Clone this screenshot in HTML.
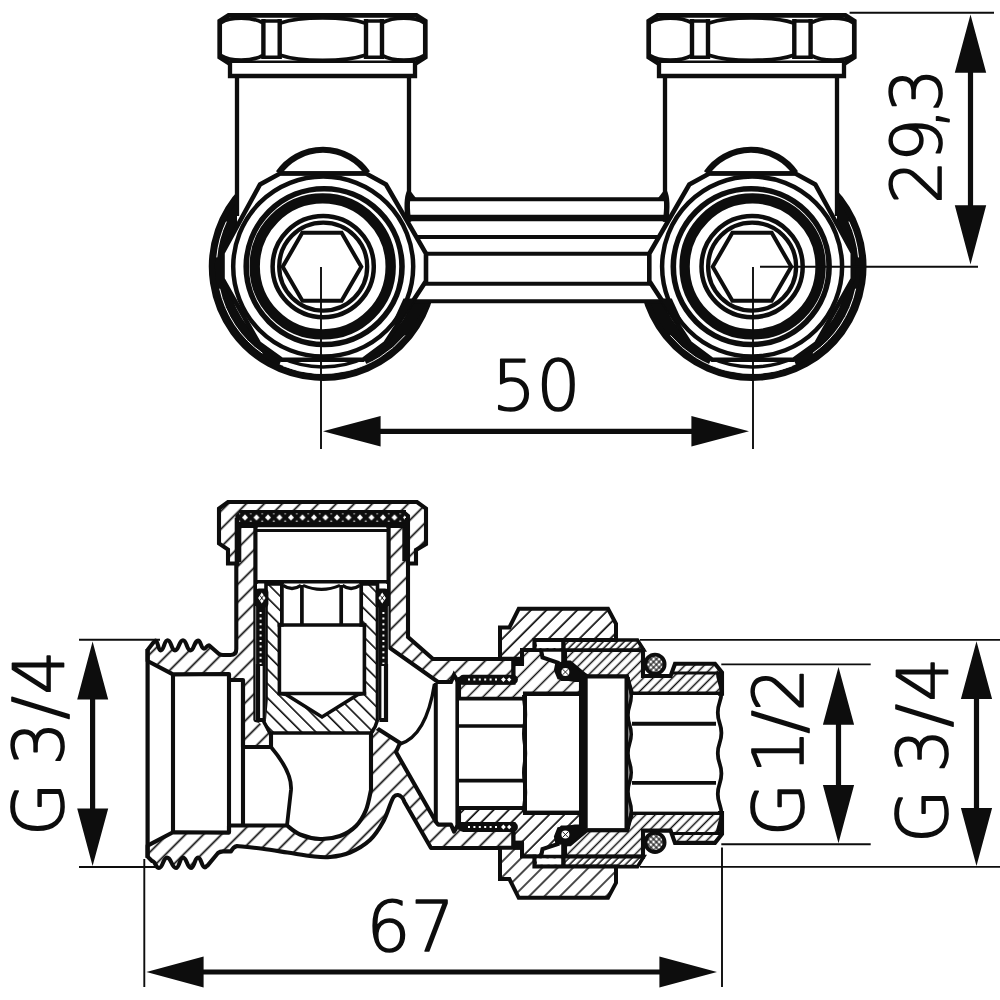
<!DOCTYPE html>
<html lang="en">
<head>
<meta charset="utf-8">
<title>Technical drawing – H-block valve, dimensions</title>
<style>
  html, body { margin: 0; padding: 0; background: #fff; }
  body { width: 1000px; height: 1000px; overflow: hidden; }
  svg { display: block; }
  .k  { fill: none; stroke: #0d0d0d; stroke-linejoin: miter; stroke-linecap: butt; }
  .n  { stroke-width: 1.9; }
  .d  { stroke-width: 5.2; }
  .f  { fill: #0d0d0d; stroke: none; }
  .w  { fill: #fff; }
  text { font-family: "DejaVu Sans Light", "DejaVu Sans", "Liberation Sans", sans-serif; font-weight: 200;
         font-size: 69px; fill: #0d0d0d; stroke: #0d0d0d; stroke-width: 1.7; stroke-linejoin: round; }
</style>
</head>
<body>
<svg width="1000" height="1000" viewBox="0 0 1000 1000">
<rect width="1000" height="1000" fill="#fff"/>

<!-- ============ TOP VIEW ============ -->
<g id="topview">
<defs>
<g id="uBack"><path class="k" stroke-width="7.2" d="M430.3 293.5A110.6 110.6 0 1 1 243.4 189.9"/>
<path class="k" stroke-width="12" d="M422.0 291.4A102 102 0 0 1 364.5 359.9"/>
<path class="k" stroke-width="12" d="M281.5 359.9A102 102 0 0 1 249.6 195.8"/>
<path class="k" stroke-width="3.4" d="M367.0 356.8A100.3 100.3 0 0 1 279.0 356.8"/>
<path fill="none" stroke="#fff" stroke-width="1" d="M262.4 353.2A105.6 105.6 0 0 1 219.7 288.7"/>
<path fill="none" stroke="#fff" stroke-width="1" d="M216.8 257.4A106.6 106.6 0 0 1 226.4 221.6"/>
<path fill="none" stroke="#fff" stroke-width="0.9" d="M404.9 335.4A106.9 106.9 0 0 1 283.0 365.8"/></g>
<g id="uFront"><path class="w" d="M237 76H409V199H405V230H237Z"/>
<path class="k" stroke-width="4.3" d="M237 76V216 M409 76V196"/>
<path class="k" stroke-width="5.5" d="M409.5 192Q405.5 200 408.5 222"/>
<path class="f" d="M407 194.5L410.5 191L415.5 197.5V201H407Z"/>
<path class="k" stroke-width="6.2" style="fill:#fff" d="M278.5 173A54.2 54.2 0 0 1 367.5 173"/>
<path class="k" stroke-width="4.7" style="fill:#fff" d="M228.6 15.3H416.4L425.3 21V57.3L416.4 62.8H228.6L219.7 57.3V21Z"/>
<path class="k" stroke-width="4.3" style="fill:#fff" d="M230 63V76H415V63"/>
<path class="k" stroke-width="4.4" d="M263.4 19V59 M279.7 19V59 M366 19V59 M382 19V59"/>
<path class="k" stroke-width="3.4" d="M263 21H280 M263 57.2H280 M366 21H382 M366 57.2H382"/>
<path class="k" stroke-width="3.8" d="M221 22.6C230 16.6 252 16.6 262.5 22.6 M221 55.6C230 61.6 252 61.6 262.5 55.6 M382.5 22.6C393 16.6 415 16.6 424 22.6 M382.5 55.6C393 61.6 415 61.6 424 55.6"/>
<path class="k" stroke-width="3.8" d="M280.5 23C300 16.2 345 16.2 365 23 M280.5 55.2C300 62 345 62 365 55.2"/></g>
<g id="uRing"><path class="k" stroke-width="4.6" style="fill:#fff" d="M280 173.5H366L386 184.5L426 253.5V281L385.5 343L363 359.8H282L259 343.5L222.5 279V253L260 184.5Z"/>
<path class="k" stroke-width="4.2" d="M280 173.4H366"/>
<circle class="k" stroke-width="4.5" cx="323.2" cy="266.6" r="90"/>
<path class="f" d="M403.5 298.5H415.5L399 323L391 326Z"/>
<circle class="k" stroke-width="5.6" cx="324.09999999999997" cy="266.6" r="77.9"/>
<circle class="k" stroke-width="10.4" cx="322.7" cy="266.40000000000003" r="68"/>
<circle class="k" stroke-width="4.5" cx="323.2" cy="266.6" r="50.6"/>
<circle class="k" stroke-width="4.3" cx="323.2" cy="266.6" r="44"/></g>
</defs>
<use href="#uBack"/>
<use href="#uBack" transform="translate(1075.3 0) scale(-1 1)"/>
<rect class="w" x="405" y="199.25" width="264" height="102"/>
<path class="k" stroke-width="4" d="M409 199.25H665 M405 237H669 M405 253.75H669 M405 283.75H669 M405 301.25H669"/>
<path class="k" stroke-width="6.6" d="M405 218H669"/>
<use href="#uFront"/>
<use href="#uRing"/>
<polygon class="k" stroke-width="4" points="361.3,266.8 341.6,300.8 302.4,300.8 282.7,266.8 302.3,232.8 341.6,232.8"/>
<use href="#uFront" transform="translate(1074 0) scale(-1 1)"/>
<use href="#uRing" transform="translate(1075.3 0) scale(-1 1)"/>
<g transform="translate(1074 0) scale(-1 1)"><polygon class="k" stroke-width="4" points="361.3,266.8 341.6,300.8 302.4,300.8 282.7,266.8 302.3,232.8 341.6,232.8"/></g>

</g>

<!-- ============ SECTION VIEW ============ -->
<g id="section">
<defs>
<pattern id="hB" patternUnits="userSpaceOnUse" width="12.7279" height="12.7279" patternTransform="rotate(-45)"><rect width="12.7279" height="12.7279" fill="#fff"/><path d="M-1 8.485H13.728 M-1 -4.243H13.728 M-1 21.213H13.728" stroke="#0d0d0d" stroke-width="1.6" fill="none"/></pattern>
<pattern id="hN" patternUnits="userSpaceOnUse" width="10.8894" height="10.8894" patternTransform="rotate(-45)"><rect width="10.8894" height="10.8894" fill="#fff"/><path d="M-1 1.167H11.889 M-1 -9.723H11.889 M-1 12.056H11.889" stroke="#0d0d0d" stroke-width="1.6" fill="none"/></pattern>
<pattern id="hT" patternUnits="userSpaceOnUse" width="10.6773" height="10.6773" patternTransform="rotate(-45)"><rect width="10.6773" height="10.6773" fill="#fff"/><path d="M-1 1.414H11.677 M-1 -9.263H11.677 M-1 12.092H11.677" stroke="#0d0d0d" stroke-width="1.6" fill="none"/></pattern>
<pattern id="hD" patternUnits="userSpaceOnUse" width="6.8236" height="6.8236" patternTransform="rotate(-45)"><rect width="6.8236" height="6.8236" fill="#fff"/><path d="M-1 6.258H7.824 M-1 -0.566H7.824 M-1 13.081H7.824" stroke="#0d0d0d" stroke-width="1.5" fill="none"/></pattern>
<pattern id="hS" patternUnits="userSpaceOnUse" width="4.9497" height="4.9497" patternTransform="rotate(-45)"><rect width="4.9497" height="4.9497" fill="#fff"/><path d="M-1 4.243H5.950 M-1 -0.707H5.950 M-1 9.192H5.950" stroke="#0d0d0d" stroke-width="1.5" fill="none"/></pattern>
<pattern id="hI" patternUnits="userSpaceOnUse" width="10.1116" height="10.1116" patternTransform="rotate(45)"><rect width="10.1116" height="10.1116" fill="#fff"/><path d="M-1 1.061H11.112 M-1 -9.051H11.112 M-1 11.172H11.112" stroke="#0d0d0d" stroke-width="1.6" fill="none"/></pattern>
<pattern id="hNm" patternUnits="userSpaceOnUse" width="10.8894" height="10.8894" patternTransform="rotate(45)"><rect width="10.8894" height="10.8894" fill="#fff"/><path d="M-1 2.934H11.889 M-1 -7.955H11.889 M-1 13.824H11.889" stroke="#0d0d0d" stroke-width="1.6" fill="none"/></pattern>
<pattern id="hTm" patternUnits="userSpaceOnUse" width="10.6773" height="10.6773" patternTransform="rotate(45)"><rect width="10.6773" height="10.6773" fill="#fff"/><path d="M-1 4.738H11.677 M-1 -5.940H11.677 M-1 15.415H11.677" stroke="#0d0d0d" stroke-width="1.6" fill="none"/></pattern>
<pattern id="hDm" patternUnits="userSpaceOnUse" width="6.8236" height="6.8236" patternTransform="rotate(45)"><rect width="6.8236" height="6.8236" fill="#fff"/><path d="M-1 5.409H7.824 M-1 -1.414H7.824 M-1 12.233H7.824" stroke="#0d0d0d" stroke-width="1.5" fill="none"/></pattern>
<pattern id="hSm" patternUnits="userSpaceOnUse" width="4.9497" height="4.9497" patternTransform="rotate(45)"><rect width="4.9497" height="4.9497" fill="#fff"/><path d="M-1 1.838H5.950 M-1 -3.111H5.950 M-1 6.788H5.950" stroke="#0d0d0d" stroke-width="1.5" fill="none"/></pattern>
<pattern id="xh" patternUnits="userSpaceOnUse" width="3.9" height="3.9" patternTransform="rotate(45)"><rect width="3.9" height="3.9" fill="#fff"/><path d="M0 1.95H3.9M1.95 0V3.9" stroke="#0d0d0d" stroke-width="1.15"/></pattern>
<pattern id="gk" patternUnits="userSpaceOnUse" x="250.75" y="510" width="11.5" height="15.6"><rect width="11.5" height="15.6" fill="#0d0d0d"/><path d="M5.75 4.5L8.75 7.5L5.75 10.5L2.75 7.5Z" fill="#fff"/><path d="M0 10.2l1.3 1.5h-2.6Z M11.5 10.2l1.3 1.5h-2.6Z M0 4.6l1.1 -1.3h-2.2Z M11.5 4.6l1.1 -1.3h-2.2Z" fill="#fff"/></pattern>
</defs>
<path d="M147.6 650L153.6 642.2L155.5 640.6C158.05 640.6 158.05 650.4 160.6 650.4C164.1 650.4 164.1 640.2 167.6 640.2C171.3 640.2 171.3 650.4 175 650.4C179 650.4 179 640.2 183 640.2C186.7 640.2 186.7 650.4 190.4 650.4C194.2 650.4 194.2 640.6 198 640.6C201 640.6 201 648.6 204 648.6C206.5 648.6 206.5 645.2 209 645.2L219 654Q220.5 655 223 655H230.4Q236.3 655 236.3 649L236.3 526 L255.5 526 L255.5 720 L264 722 L271 734 L271 747 L243 747 L243 680 L229 680 L229 674 L173 674.4 L147.6 661Z" fill="url(#hB)" stroke="#0d0d0d" stroke-width="4.1" stroke-linejoin="round"/>
<path d="M388.5 526 L408 526 L408 637 L433 659 L513.5 659 L513.5 679 L459 679 L457 680 L454 675 L451 682 L438 682 L388.5 647Z" fill="url(#hB)" stroke="#0d0d0d" stroke-width="4.1" stroke-linejoin="miter"/>
<path d="M513.5 848L431 848 L404.5 802C404.08 800.82 403.08 798.48 402 797.4C400.92 796.32 399.33 795.13 398 795C396.67 794.87 395.17 795.35 394 796.6C392.83 797.85 392.83 798.27 391 802.5C389.17 806.73 386.5 815.75 383 822C379.5 828.25 375.5 834.92 370 840C364.5 845.08 356.67 849.67 350 852.5C343.33 855.33 336.25 856.37 330 857C323.75 857.63 319.58 857.05 312.5 856.3C305.42 855.55 295.83 853.75 287.5 852.5C279.17 851.25 270.92 849.88 262.5 848.8C254.08 847.72 241.25 846.47 237 846Q233 847 231 851.4H223Q220 851.6 218 853L207.5 865.6C206.25 865.6 206.25 867.4 205 867.4C201.5 867.4 201.5 857.6 198 857.6C194.5 857.6 194.5 868 191 868C187 868 187 857.6 183 857.6C179.5 857.6 179.5 868 176 868C171.5 868 171.5 857.6 167 857.6C163 857.6 163 868 159 868C155.5 868 155.5 861 152 861L147.6 856.6L147.6 845.6 L173 832.2 L229 832.6 L229 825.5 L287 825.5C289.17 827 294.5 832.25 300 834.5C305.5 836.75 313.33 838.75 320 839C326.67 839.25 334 838.17 340 836C346 833.83 351.67 830.33 356 826C360.33 821.67 363.5 816 366 810C368.5 804 370.17 793.33 371 790L371 733 L375 727 L400 743 L396 752 L436 822 L438 824.6 L451 824.6 L454 831.6 L457 826.6 L459 827.6 L513.5 827.6Z" fill="url(#hB)" stroke="#0d0d0d" stroke-width="4.1" stroke-linejoin="round"/>
<path d="M228 502 L417 502 L426 508.5 L426 544 L416 550 L416 563.5 L408 563.5 L408 516 L404 512.5 L241 512.5 L237.4 516 L237.4 563.5 L228 563.5 L228 549.5 L219 543.5 L219 508.5Z" fill="url(#hB)" stroke="#0d0d0d" stroke-width="4.1" stroke-linejoin="miter"/>
<path class="k" stroke-width="6.6" d="M238 518V562 M405.6 518V561" />
<rect x="239" y="510" width="166" height="15.6" fill="url(#gk)"/>
<path class="k" stroke-width="3.6" d="M240 525.4H406" />
<path class="k" stroke-width="2.8" d="M240 511.4H406" />
<rect x="256" y="528" width="132" height="54" fill="#fff"/>
<path class="k" stroke-width="3" d="M256 530.6H388" />
<path class="k" stroke-width="3.8" d="M255.6 527V720 M388.4 527V647" />
<path class="k" stroke-width="3.6" d="M254 581.8H390" />
<path d="M257 584H387V720L371 734H270L257 720Z" fill="#fff"/>
<path d="M266 584 L281.9 584 L281.9 625 L279.4 625 L279.4 693.5 L286 694.5 L322 717 L358 694.5 L364.4 693.5 L364.4 625 L361.2 625 L361.2 584 L377.5 584 L377.5 720 L375 727 L371 733 L270 733 L264 722 L266 700Z" fill="url(#hI)" stroke="#0d0d0d" stroke-width="3.6" stroke-linejoin="miter"/>
<rect x="282" y="584" width="79" height="41" fill="#fff"/>
<path class="k" stroke-width="3.7" d="M281.9 583V625 M361.2 583V625 M301.9 585V625 M341.2 585V625 M277.6 625H366.2" />
<path class="k" stroke-width="3.2" d="M283 585.4Q292 591.6 301 585.4 M303 585.4Q321.5 593.4 340 585.4 M342.4 585.4Q351 591.6 360 585.4" />
<path class="k" stroke-width="3.6" d="M277.6 693.5H366.2" />
<rect x="255.60000000000002" y="606" width="10" height="114" fill="#fff"/>
<path class="k" stroke-width="9" d="M260.6 606V666" />
<path d="M260.6 612V664" fill="none" stroke="#fff" stroke-width="2" stroke-dasharray="2 3.6"/>
<path class="k" stroke-width="3.2" d="M264.20000000000005 606V720" />
<path class="k" stroke-width="4.2" d="M258.0 664V720H264.6" />
<rect x="378.4" y="606" width="10" height="114" fill="#fff"/>
<path class="k" stroke-width="9" d="M383.4 606V666" />
<path d="M383.4 612V664" fill="none" stroke="#fff" stroke-width="2" stroke-dasharray="2 3.6"/>
<path class="k" stroke-width="3.2" d="M379.79999999999995 606V720" />
<path class="k" stroke-width="4.2" d="M386.0 664V720H379.4" />
<rect x="255.20000000000002" y="588.6" width="13.2" height="19" rx="4" fill="#0d0d0d"/>
<path d="M261.8 592.6l3.7 5.4l-3.7 5.4l-3.7 -5.4Z" fill="#fff"/>
<path class="k" stroke-width="0.9" d="M259.90000000000003 595.4L263.7 600.6 M263.7 595.4L259.90000000000003 600.6"/>
<rect x="375.59999999999997" y="588.6" width="13.2" height="19" rx="4" fill="#0d0d0d"/>
<path d="M382.2 592.6l3.7 5.4l-3.7 5.4l-3.7 -5.4Z" fill="#fff"/>
<path class="k" stroke-width="0.9" d="M380.3 595.4L384.09999999999997 600.6 M384.09999999999997 595.4L380.3 600.6"/>
<path class="k" stroke-width="4.2" d="M147.6 649V858" />
<path class="k" stroke-width="4.1" d="M173 674V832.6 M229 674V832.6 M243 680V825.5" />
<path class="k" stroke-width="3.8" d="M271 747C282 760 292 776 291 790L287 825.5" />
<path class="k" stroke-width="4" d="M435.8 683V823 M457.4 681V826" />
<path class="k" stroke-width="3.4" d="M434.5 684C430 712 420 738 400 744" />
<g><path d="M459 682.6 L513.5 682.6 L513.5 662 L522 662 L522 650 L541 650 L542.5 657.5 L557.5 662.5 L556 670 L559 677.5 L575 680 L581 680 L581 693.6 L525 693.6 L525 698.75 L459 698.75Z" fill="url(#hT)" stroke="#0d0d0d" stroke-width="4.1" stroke-linejoin="miter"/>
<path d="M565 650 L643 650 L643 676 L670.6 676 L675 663.75 L715 663.75 L722 672.5 L722 693.6 L632 693.6 L627 676.5 L587.5 676.5 L585 675 L570 662.5 L565 662.5Z" fill="url(#hD)" stroke="#0d0d0d" stroke-width="4.1" stroke-linejoin="miter"/>
<path class="k" stroke-width="3" d="M673 673H722" />
<path d="M534.4 640 L637.5 640 L643.75 650 L534.4 650Z" fill="url(#hS)" stroke="#0d0d0d" stroke-width="3.6" stroke-linejoin="miter"/>
<rect x="537" y="642" width="26" height="6" fill="#fff"/>
<path class="k" stroke-width="4.4" d="M563.4 641V662" />
<path d="M500 627.5 L509.4 627.5 L518.75 608.75 L608 608.75 L616 623.75 L616 640 L534.4 640 L534.4 650 L522 650 L522 658.75 L500 658.75Z" fill="url(#hN)" stroke="#0d0d0d" stroke-width="4" stroke-linejoin="miter"/>
<path class="f" d="M513 657H524V666H513Z"/>
<path class="f" d="M556 663.5Q562 660 570 662.5L586 676.5L582 681H561Q555 676 556 663.5Z"/>
<circle cx="565.4" cy="672" r="4" fill="#fff"/>
<path class="k" stroke-width="0.9" d="M562.6 669.2L568.2 674.8 M568.2 669.2L562.6 674.8" />
<circle cx="655" cy="664.2" r="9.6" fill="url(#xh)" stroke="#0d0d0d" stroke-width="3.8"/>
<path class="k" stroke-width="9.8" d="M463.5 679.6H513" style="stroke-linecap:round"/>
<path d="M468 679.6H498" fill="none" stroke="#fff" stroke-width="2" stroke-dasharray="2 3.4"/>
<path d="M501 679.6l2.4 -2.4l2.4 2.4l-2.4 2.4Z M507 679.6l2.2 -2.2l2.2 2.2l-2.2 2.2Z" fill="#fff"/></g>
<g transform="translate(0 1506.6) scale(1 -1)"><path d="M459 682.6 L513.5 682.6 L513.5 662 L522 662 L522 650 L541 650 L542.5 657.5 L557.5 662.5 L556 670 L559 677.5 L575 680 L581 680 L581 693.6 L525 693.6 L525 698.75 L459 698.75Z" fill="url(#hTm)" stroke="#0d0d0d" stroke-width="4.1" stroke-linejoin="miter"/>
<path d="M565 650 L643 650 L643 676 L670.6 676 L675 663.75 L715 663.75 L722 672.5 L722 693.6 L632 693.6 L627 676.5 L587.5 676.5 L585 675 L570 662.5 L565 662.5Z" fill="url(#hDm)" stroke="#0d0d0d" stroke-width="4.1" stroke-linejoin="miter"/>
<path class="k" stroke-width="3" d="M673 673H722" />
<path d="M534.4 640 L637.5 640 L643.75 650 L534.4 650Z" fill="url(#hSm)" stroke="#0d0d0d" stroke-width="3.6" stroke-linejoin="miter"/>
<rect x="537" y="642" width="26" height="6" fill="#fff"/>
<path class="k" stroke-width="4.4" d="M563.4 641V662" />
<path d="M500 627.5 L509.4 627.5 L518.75 608.75 L608 608.75 L616 623.75 L616 640 L534.4 640 L534.4 650 L522 650 L522 658.75 L500 658.75Z" fill="url(#hNm)" stroke="#0d0d0d" stroke-width="4" stroke-linejoin="miter"/>
<path class="f" d="M513 657H524V666H513Z"/>
<path class="f" d="M556 663.5Q562 660 570 662.5L586 676.5L582 681H561Q555 676 556 663.5Z"/>
<circle cx="565.4" cy="672" r="4" fill="#fff"/>
<path class="k" stroke-width="0.9" d="M562.6 669.2L568.2 674.8 M568.2 669.2L562.6 674.8" />
<circle cx="655" cy="664.2" r="9.6" fill="url(#xh)" stroke="#0d0d0d" stroke-width="3.8"/>
<path class="k" stroke-width="9.8" d="M463.5 679.6H513" style="stroke-linecap:round"/>
<path d="M468 679.6H498" fill="none" stroke="#fff" stroke-width="2" stroke-dasharray="2 3.4"/>
<path d="M501 679.6l2.4 -2.4l2.4 2.4l-2.4 2.4Z M507 679.6l2.2 -2.2l2.2 2.2l-2.2 2.2Z" fill="#fff"/></g>
<rect x="459" y="700" width="64" height="106.6" fill="#fff"/>
<path class="k" stroke-width="3.6" d="M457.4 698.75H525 M457.4 807.85H525 M459 726H524 M459 780.6H524" />
<rect x="525" y="694" width="56" height="118.60000000000002" fill="#fff" stroke="#0d0d0d" stroke-width="4"/>
<rect x="584" y="676.5" width="42.5" height="153.60000000000002" fill="#fff" stroke="#0d0d0d" stroke-width="4"/>
<path class="k" stroke-width="7" d="M584.2 678V828.6" />
<rect x="632" y="695" width="86" height="116.60000000000002" fill="#fff"/>
<path class="k" stroke-width="3.8" d="M632 723.75H716 M632 782.85H716" />
<path class="k" stroke-width="3.6" d="M628 677C628 686.54 631.2 686.54 631.2 696.08C631.2 705.61 628 705.61 628 715.15C628 724.69 631.2 724.69 631.2 734.23C631.2 743.76 628 743.76 628 753.3C628 762.84 631.2 762.84 631.2 772.38C631.2 781.91 628 781.91 628 791.45C628 800.99 631.2 800.99 631.2 810.53C631.2 820.06 628 820.06 628 829.6" />
<path class="k" stroke-width="3.8" d="M717.8 672C717.8 682.16 721.4 682.16 721.4 692.33C721.4 702.49 717.8 702.49 717.8 712.65C717.8 722.81 721.4 722.81 721.4 732.98C721.4 743.14 717.8 743.14 717.8 753.3C717.8 763.46 721.4 763.46 721.4 773.62C721.4 783.79 717.8 783.79 717.8 793.95C717.8 804.11 721.4 804.11 721.4 814.28C721.4 824.44 717.8 824.44 717.8 834.6" />
<path class="k" stroke-width="3.6" d="M523.8 695C523.8 704.72 525.4 704.72 525.4 714.43C525.4 724.15 523.8 724.15 523.8 733.87C523.8 743.58 525.4 743.58 525.4 753.3C525.4 763.02 523.8 763.02 523.8 772.73C523.8 782.45 525.4 782.45 525.4 792.17C525.4 801.88 523.8 801.88 523.8 811.6" />

</g>

<!-- ============ DIMENSIONS ============ -->
<g id="dims">
<!-- extension / centre lines -->
<path class="k n" d="M849.6 12.8H994 M760 266.8H978 M321 267V449 M753 267V449"/>
<path class="k n" d="M79 639.7H160 M79 867H158 M144.3 859V987 M722 847.5V987"/>
<path class="k n" d="M721.3 664.4H870.7 M721.3 844.3H870.7 M640 639.9H1000 M640 866.9H1000"/>
<!-- dimension shafts -->
<path class="k d" d="M970.5 70V208 M378 431.3H694 M92.6 697V811 M201 972H662 M838.5 722V788 M976.5 697V811"/>
<!-- arrow heads -->
<path class="f" d="M970.5 14.5L986.2 72.8H954.8Z M970.5 264.5L986.2 205.2H954.8Z"/>
<path class="f" d="M323 431.3L380.6 416V446.6Z M749 431.3L691.4 416V446.6Z"/>
<path class="f" d="M92.6 641.5L108.2 699.4H77.2Z M92.6 866L108.2 808.4H77.2Z"/>
<path class="f" d="M146.4 972L203.6 956.6V987.6Z M717 972L659.4 956.6V987.6Z"/>
<path class="f" d="M838.5 667L854.1 724.7H822.9Z M838.5 843.3L854.1 785.1H822.9Z"/>
<path class="f" d="M976.5 641.2L992.1 699.1H960.9Z M976.5 866L992.1 808H960.9Z"/>
<!-- dimension texts -->
<text x="492 536.6" y="409.55">50</text>
<text x="366.6 410.8" y="950.55">67</text>
<text transform="rotate(-90)" x="-204.1 -162.1 -129.5 -112.2" y="940.9">29,3</text>
<text transform="rotate(-90)" x="-836.1 -790 -765.6 -719.6 -694.4" y="63.15">G 3/4</text>
<text transform="rotate(-90)" x="-836.3 -773.8 -733.6 -711.5" y="803.15">G1/2</text>
<text transform="rotate(-90)" x="-843 -797 -772.7 -727.2 -701.4" y="946.65">G 3/4</text>

</g>
</svg>
</body>
</html>
